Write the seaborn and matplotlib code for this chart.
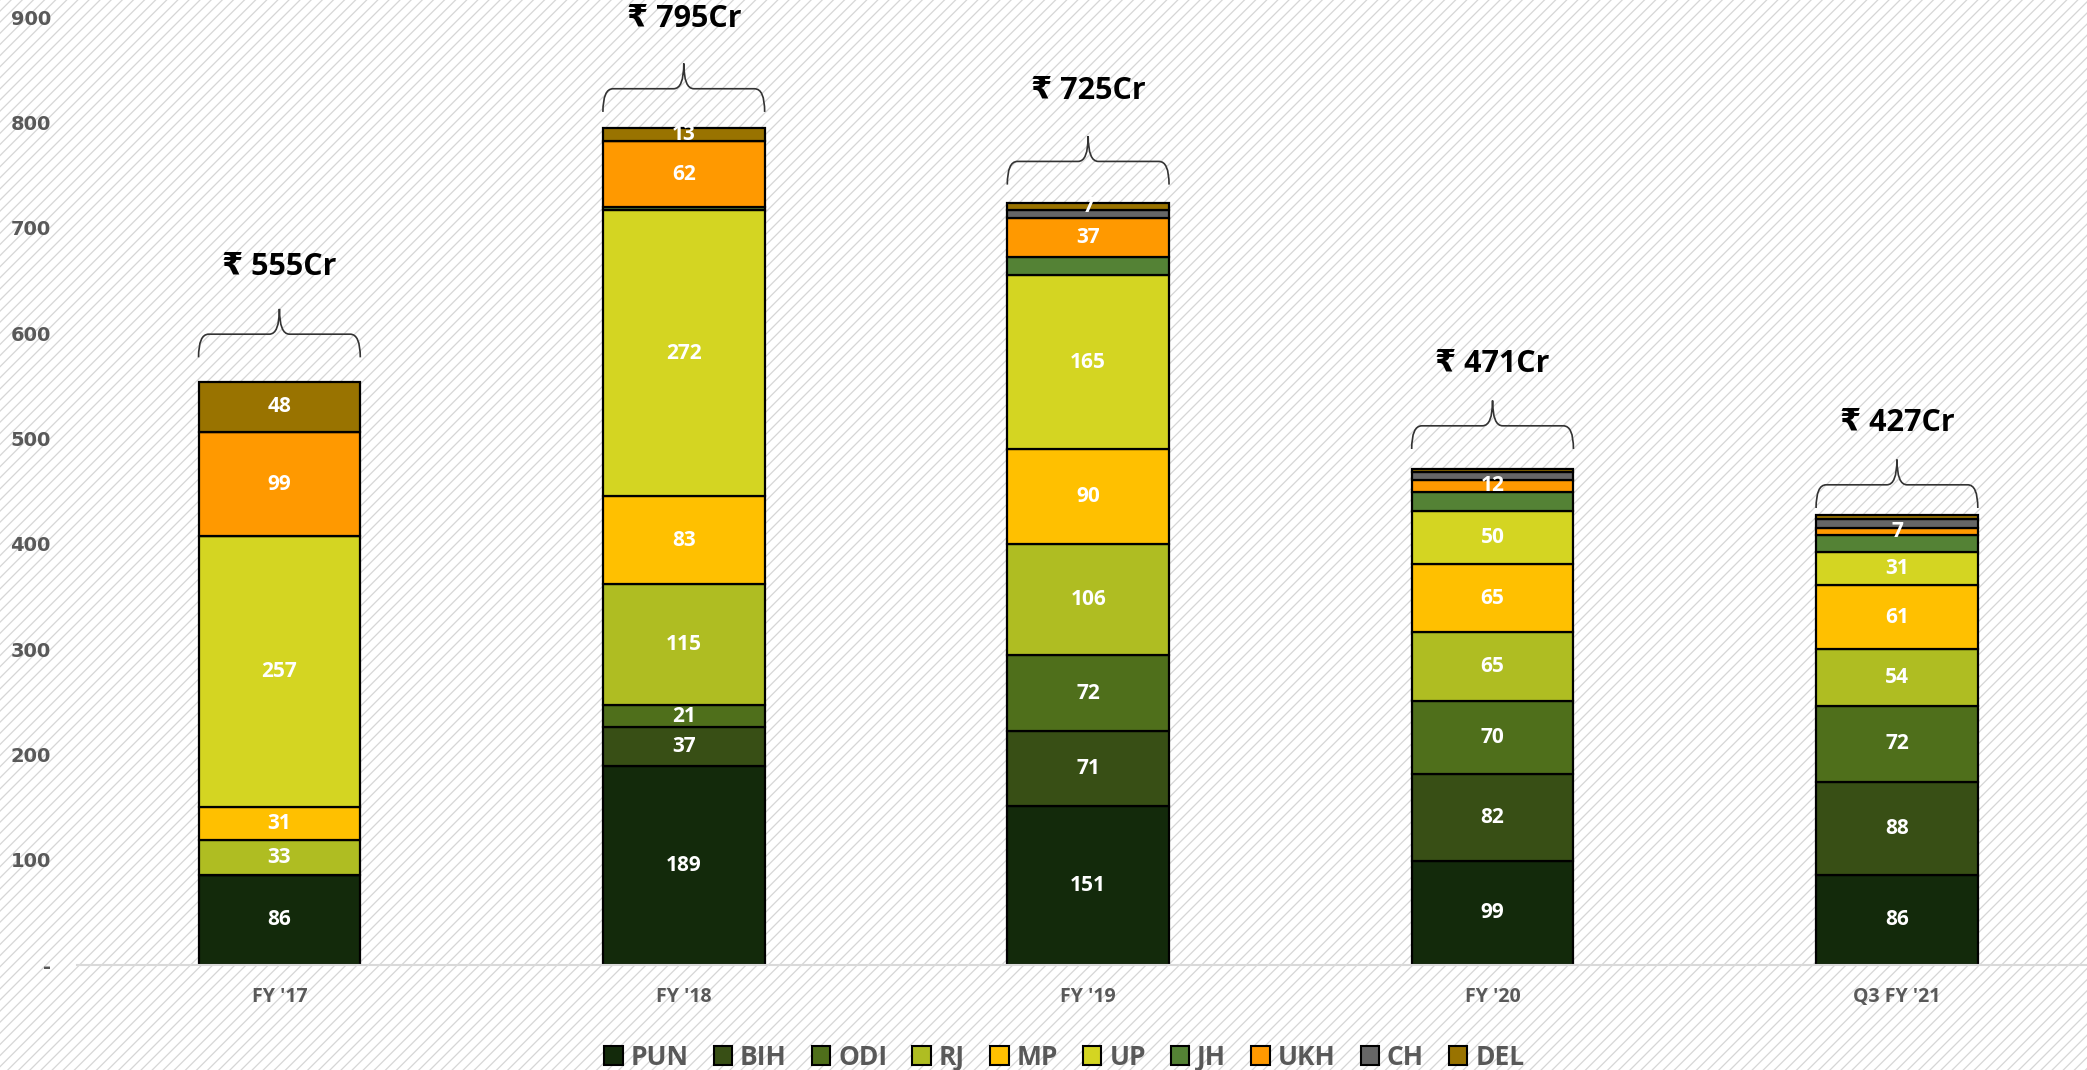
import numpy as np
import pandas as pd
import matplotlib
matplotlib.use("Agg")
import matplotlib.pyplot as plt
import seaborn as sns
from matplotlib.patches import Rectangle, Patch, PathPatch
from matplotlib.path import Path

# ---------------- data ----------------
categories = ["FY '17", "FY '18", "FY '19", "FY '20", "Q3 FY '21"]
states = ["PUN", "BIH", "ODI", "RJ", "MP", "UP", "JH", "UKH", "CH", "DEL"]
PUN = [86, 189, 151, 99, 86]
BIH = [0, 37, 71, 82, 88]
ODI = [0, 21, 72, 70, 72]
RJ = [33, 115, 106, 65, 54]
MP = [31, 83, 90, 65, 61]
UP = [257, 272, 165, 50, 31]
JH = [0, 3, 17, 18, 16]
UKH = [99, 62, 37, 12, 7]
CH = [0, 0, 8, 7, 9]
DEL = [48, 13, 7, 3, 3]
totals = ["₹ 555Cr", "₹ 795Cr", "₹ 725Cr", "₹ 471Cr", "₹ 427Cr"]
labelled_states = ["PUN", "BIH", "ODI", "RJ", "MP", "UP", "UKH", "DEL"]
yticks = [0, 100, 200, 300, 400, 500, 600, 700, 800, 900]
ytick_labels = ["-", "100", "200", "300", "400", "500", "600", "700", "800", "900"]

# annotation placement (offsets above each bar top, in axis units)
brace_gap = [23, 15, 17, 19, 7]
text_gap = [109, 103, 106, 100, 88]

colors = {
    "PUN": "#132a0b", "BIH": "#384f15", "ODI": "#4f6f1b", "RJ": "#afbd22",
    "MP": "#ffc000", "UP": "#d4d522", "JH": "#548235", "UKH": "#ff9900",
    "CH": "#666666", "DEL": "#997300",
}

series = {"PUN": PUN, "BIH": BIH, "ODI": ODI, "RJ": RJ, "MP": MP, "UP": UP,
          "JH": JH, "UKH": UKH, "CH": CH, "DEL": DEL}

df = pd.DataFrame(series)
df.insert(0, "period", categories)

# ---------------- figure ----------------
sns.set_style("white")
plt.rcParams["font.family"] = ["Open Sans", "DejaVu Sans"]
plt.rcParams["hatch.linewidth"] = 0.9

fig = plt.figure(figsize=(20.87, 10.70), dpi=100)
bg = Rectangle((0, 0), 1, 1, transform=fig.transFigure, facecolor="white",
               edgecolor="#d6d6d6", linewidth=0, hatch="///", zorder=-10)
fig.patches.append(bg)

ax = fig.add_axes([0.037, 0.098, 0.963, 0.886])
ax.set_facecolor("none")

bottom = np.zeros(len(categories))
handles = []
for st in states:
    vals = np.array(series[st], dtype=float)
    sns.barplot(data=df, x="period", y=st, order=categories, color=colors[st],
                saturation=1, width=0.4, bottom=bottom, errorbar=None,
                edgecolor="black", linewidth=1.6, ax=ax, zorder=2)
    if st in labelled_states:
        for i, v in enumerate(vals):
            if v >= 5:
                ax.text(i, bottom[i] + v / 2, f"{int(v)}", ha="center", va="center",
                        color="white", fontsize=15, fontweight="bold", zorder=5)
    bottom = bottom + vals
    handles.append(Patch(facecolor=colors[st], edgecolor="black", linewidth=1.5,
                         label=st))

# braces and totals
hw = 0.2
for i, tot in enumerate(bottom):
    y0 = tot + brace_gap[i]
    ym = y0 + 22
    yt = y0 + 46
    xl, xr, xm = i - hw, i + hw, i
    dx = 0.025
    verts = [
        (xl, y0), (xl, ym), (xl + dx, ym),
        (xm - dx, ym),
        (xm, ym), (xm, yt),
        (xm, ym), (xm + dx, ym),
        (xr - dx, ym),
        (xr, ym), (xr, y0),
    ]
    codes = [Path.MOVETO, Path.CURVE3, Path.CURVE3, Path.LINETO,
             Path.CURVE3, Path.CURVE3, Path.CURVE3, Path.CURVE3,
             Path.LINETO, Path.CURVE3, Path.CURVE3]
    ax.add_patch(PathPatch(Path(verts, codes), facecolor="none",
                           edgecolor="#333333", linewidth=1.2, zorder=4))
    ax.text(i, tot + text_gap[i], totals[i], ha="center", va="center", fontsize=22,
            fontweight="bold", color="black", zorder=5)

ax.set_xlim(-0.5, 4.47)
ax.set_ylim(0, 900)
ax.set_yticks(yticks)
ax.set_yticklabels(ytick_labels)
ax.set_xlabel("")
ax.set_ylabel("")
for s in ["top", "right", "left"]:
    ax.spines[s].set_visible(False)
ax.spines["bottom"].set_color("#d9d9d9")
ax.spines["bottom"].set_linewidth(1.5)
ax.tick_params(axis="both", length=0)
ax.tick_params(axis="y", pad=19)
ax.tick_params(axis="x", pad=16)
for lab in ax.get_yticklabels():
    lab.set_fontfamily(["DejaVu Sans"])
    lab.set_fontweight("bold")
    lab.set_fontsize(14)
    lab.set_color("#595959")
for lab in ax.get_xticklabels():
    lab.set_fontweight("bold")
    lab.set_fontsize(14)
    lab.set_color("#595959")

leg = fig.legend(handles=handles, loc="center", bbox_to_anchor=(0.51, 0.012),
                 ncol=len(states), frameon=False, fontsize=19,
                 handlelength=0.7, handleheight=0.7, handletextpad=0.3,
                 columnspacing=0.95)
for t in leg.get_texts():
    t.set_color("#595959")
    t.set_fontweight("bold")

fig.savefig("out.png", dpi=100)
